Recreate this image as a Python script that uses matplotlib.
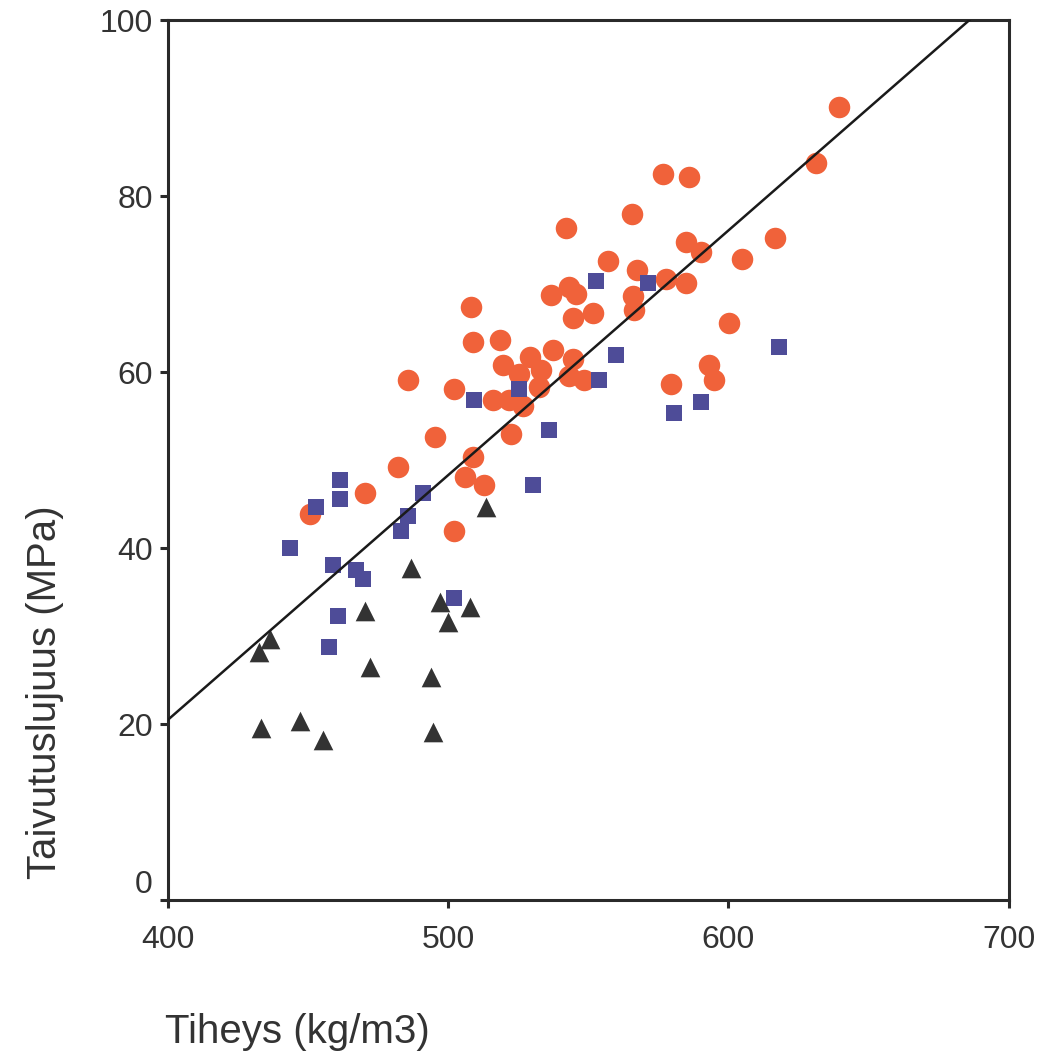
import numpy as np
import matplotlib
matplotlib.use("Agg")
import matplotlib.pyplot as plt

# ---- data ----
orange_x = [639.5, 631.3, 576.8, 586.0, 565.4, 541.9, 584.9, 590.2, 616.6, 605.0,
            556.9, 567.2, 577.7, 584.9, 536.7, 543.2, 545.6, 565.8, 566.4, 544.4,
            551.5, 600.3, 508.2, 508.7, 518.3, 519.5, 529.0, 537.3, 544.4, 533.1,
            525.3, 543.2, 548.5, 532.5, 515.9, 521.8, 526.6, 485.6, 502.2, 579.5,
            593.2, 595.0, 495.1, 522.4, 508.7, 482.0, 505.8, 512.9, 470.1, 450.5,
            502.2]
orange_y = [90.1, 83.8, 82.5, 82.2, 78.0, 76.4, 74.8, 73.7, 75.2, 72.9,
            72.6, 71.6, 70.6, 70.1, 68.8, 69.7, 68.9, 68.6, 67.0, 66.1,
            66.7, 65.6, 67.4, 63.4, 63.6, 60.8, 61.7, 62.5, 61.5, 60.2,
            59.8, 59.5, 59.1, 58.3, 56.8, 56.8, 56.2, 59.1, 58.1, 58.7,
            60.8, 59.1, 52.6, 53.0, 50.4, 49.2, 48.1, 47.2, 46.2, 43.9,
            41.9]

blue_x = [552.7, 571.2, 559.9, 618.2, 553.9, 525.3, 509.3, 590.2, 580.7, 536.1,
          530.1, 461.2, 461.2, 452.9, 443.4, 490.9, 485.5, 483.2, 458.8, 467.1,
          469.5, 502.2, 460.6, 457.6]
blue_y = [70.3, 70.1, 61.9, 62.9, 59.1, 58.1, 56.8, 56.6, 55.3, 53.4,
          47.2, 47.7, 45.6, 44.7, 40.0, 46.2, 43.6, 41.9, 38.1, 37.5,
          36.5, 34.3, 32.3, 28.7]

tri_x = [513.5, 486.8, 470.1, 496.9, 507.6, 499.8, 436.2, 432.6, 471.9, 493.9,
         433.2, 446.9, 455.2, 494.5]
tri_y = [44.7, 37.7, 32.8, 33.9, 33.3, 31.6, 29.7, 28.2, 26.5, 25.4,
         19.5, 20.3, 18.2, 19.1]

# regression line
slope, intercept = 0.278, -90.7

ORANGE, BLUE, DARK = "#F0623A", "#4E4C98", "#333333"
INK = "#2a2a2a"

plt.rcParams.update({"font.family": "Liberation Sans", "font.size": 22})

fig = plt.figure(figsize=(10.64, 10.57), dpi=100)
ax = fig.add_axes([0.158, 0.1485, 0.79, 0.8325])

ax.scatter(orange_x, orange_y, s=240, marker="o", color=ORANGE, linewidths=0, zorder=3)
ax.scatter(blue_x, blue_y, s=125, marker="s", color=BLUE, linewidths=0, zorder=4)
ax.scatter(tri_x, tri_y, s=200, marker="^", color=DARK, linewidths=0, zorder=5)
ax.axline((0, intercept), slope=slope, color="#1a1a1a", lw=1.8, zorder=6)

ax.set_xlim(400, 700)
ax.set_ylim(0, 100)
ax.set_xticks([400, 500, 600, 700])
ax.set_yticks([0, 20, 40, 60, 80, 100])
for s in ax.spines.values():
    s.set_linewidth(2.2)
    s.set_color(INK)
ax.tick_params(direction="out", length=6, width=2.2, color=INK,
               labelsize=23, labelcolor="#333333")
ax.tick_params(axis="x", pad=12)
ax.tick_params(axis="y", pad=5)
# the "0" label sits a little above the corner in the original
ax.get_yticklabels()[0].set_va("bottom")

fig.text(0.042, 0.345, "Taivutuslujuus (MPa)", rotation=90, ha="center", va="center",
         fontsize=29, color="#333333")
fig.text(0.155, 0.024, "Tiheys (kg/m3)", ha="left", va="center",
         fontsize=29, color="#333333")

fig.savefig("out.png", dpi=100)
